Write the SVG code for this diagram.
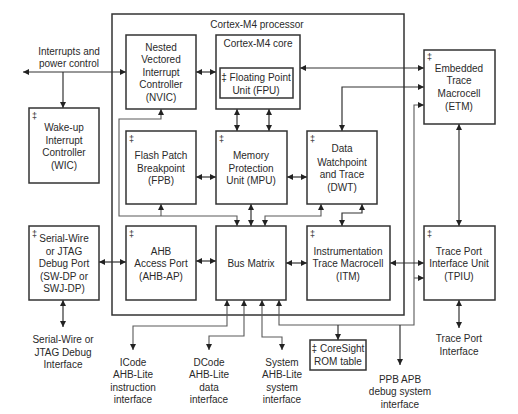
<svg xmlns="http://www.w3.org/2000/svg" width="518" height="414" viewBox="0 0 518 414">
<defs>
<marker id="ah" viewBox="0 0 6 6" refX="6" refY="3" markerWidth="6" markerHeight="6" markerUnits="userSpaceOnUse" orient="auto-start-reverse">
<path d="M0,0 L6,3 L0,6 z" fill="#222"/>
</marker>
<style>
.box{fill:#fff;stroke:#333;stroke-width:1.5}
.frame{fill:none;stroke:#333;stroke-width:1.5}
.c{fill:none;stroke:#333;stroke-width:1.2}
.g{fill:none;stroke:#5a5a5a;stroke-width:1.1}
.b{marker-start:url(#ah);marker-end:url(#ah)}
.e{marker-end:url(#ah)}
text{font-family:"Liberation Sans",Arial,sans-serif;font-size:10px;fill:#2a2a2a;text-anchor:middle}
.dg{font-size:9px;text-anchor:start}
</style>
</defs>
<rect width="518" height="414" fill="#fff"/>

<g id="processor">
<rect class="frame" x="112" y="14" width="292" height="301"/>
<text x="257" y="28">Cortex-M4 processor</text>
</g>

<g id="connectors">
<path class="c b" d="M23,72 H126"/>
<path class="c e" d="M63,72 V108"/>
<path class="c b" d="M196,72 H216"/>
<path class="c b" d="M300,68 H424"/>
<path class="c b" d="M342,131 V87 H424"/>
<path class="g b" d="M279,300 V325 H414 V105 H424"/>
<path class="g e" d="M414,278 H424"/>
<path class="c e" d="M338,325 V340"/>
<path class="c e" d="M400,325 V365"/>
<path class="c b" d="M237,109 V131"/>
<path class="c b" d="M269,109 V131"/>
<path class="c b" d="M196,177 H216"/>
<path class="c b" d="M287,177 H307"/>
<path class="g b" d="M161,109 V119 H119 V216 H237 V226"/>
<path class="g e" d="M161,216 V204"/>
<path class="c b" d="M251,204 V226"/>
<path class="g b" d="M321,204 V216 H265 V226"/>
<path class="c b" d="M362,204 V213 H342 V226"/>
<path class="c b" d="M99,262 H126"/>
<path class="c b" d="M196,261 H216"/>
<path class="c b" d="M286,263 H307"/>
<path class="c b" d="M390,263 H424"/>
<path class="c b" d="M459,124 V226"/>
<path class="c b" d="M459,300 V328"/>
<path class="c b" d="M63,300 V327"/>
<path class="g b" d="M227,300 V326 H133 V350"/>
<path class="g b" d="M244,300 V336 H209 V350"/>
<path class="g b" d="M262,300 V337 H282 V350"/>
</g>

<g id="nvic">
<rect class="box" x="126" y="35" width="70" height="74"/>
<text x="161" y="51">Nested</text>
<text x="161" y="63">Vectored</text>
<text x="161" y="76">Interrupt</text>
<text x="161" y="88">Controller</text>
<text x="161" y="101">(NVIC)</text>
</g>

<g id="core">
<rect class="box" x="216" y="35" width="84" height="74"/>
<text x="258" y="47">Cortex-M4 core</text>
</g>

<g id="fpu">
<rect class="box" x="220" y="68" width="73" height="30"/>
<text x="256" y="81">‡ Floating Point</text>
<text x="256" y="94">Unit (FPU)</text>
</g>

<g id="etm">
<rect class="box" x="424" y="50" width="71" height="74"/>
<text class="dg" x="427" y="60">‡</text>
<text x="459" y="72">Embedded</text>
<text x="459" y="84">Trace</text>
<text x="459" y="97">Macrocell</text>
<text x="459" y="110">(ETM)</text>
</g>

<g id="wic">
<rect class="box" x="29" y="108" width="70" height="75"/>
<text class="dg" x="32" y="119">‡</text>
<text x="64" y="131">Wake-up</text>
<text x="64" y="144">Interrupt</text>
<text x="64" y="156">Controller</text>
<text x="64" y="169">(WIC)</text>
</g>

<g id="fpb">
<rect class="box" x="126" y="131" width="70" height="73"/>
<text class="dg" x="129" y="142">‡</text>
<text x="161" y="159">Flash Patch</text>
<text x="161" y="172">Breakpoint</text>
<text x="161" y="184">(FPB)</text>
</g>

<g id="mpu">
<rect class="box" x="216" y="131" width="71" height="73"/>
<text class="dg" x="219" y="142">‡</text>
<text x="251" y="159">Memory</text>
<text x="251" y="172">Protection</text>
<text x="251" y="184">Unit (MPU)</text>
</g>

<g id="dwt">
<rect class="box" x="307" y="131" width="70" height="73"/>
<text class="dg" x="310" y="142">‡</text>
<text x="342" y="152">Data</text>
<text x="342" y="166">Watchpoint</text>
<text x="342" y="178">and Trace</text>
<text x="342" y="191">(DWT)</text>
</g>

<g id="swdp">
<rect class="box" x="29" y="226" width="70" height="74"/>
<text class="dg" x="32" y="237">‡</text>
<text x="64" y="242">Serial-Wire</text>
<text x="64" y="255">or JTAG</text>
<text x="64" y="267">Debug Port</text>
<text x="64" y="280">(SW-DP or</text>
<text x="64" y="292">SWJ-DP)</text>
</g>

<g id="ahbap">
<rect class="box" x="126" y="226" width="70" height="74"/>
<text class="dg" x="129" y="237">‡</text>
<text x="161" y="255">AHB</text>
<text x="161" y="267">Access Port</text>
<text x="161" y="280">(AHB-AP)</text>
</g>

<g id="busmatrix">
<rect class="box" x="216" y="226" width="70" height="74"/>
<text x="251" y="267">Bus Matrix</text>
</g>

<g id="itm">
<rect class="box" x="307" y="226" width="83" height="74"/>
<text class="dg" x="310" y="237">‡</text>
<text x="348" y="255">Instrumentation</text>
<text x="348" y="267">Trace Macrocell</text>
<text x="348" y="280">(ITM)</text>
</g>

<g id="tpiu">
<rect class="box" x="424" y="226" width="71" height="74"/>
<text class="dg" x="427" y="237">‡</text>
<text x="459" y="255">Trace Port</text>
<text x="459" y="267">Interface Unit</text>
<text x="459" y="280">(TPIU)</text>
</g>

<g id="romtable">
<rect class="box" x="310" y="340" width="56" height="30"/>
<text x="338" y="352">‡ CoreSight</text>
<text x="338" y="365">ROM table</text>
</g>

<g id="labels">
<text x="69" y="55">Interrupts and</text>
<text x="69" y="67">power control</text>
<text x="63" y="343">Serial-Wire or</text>
<text x="63" y="356">JTAG Debug</text>
<text x="63" y="368">Interface</text>
<text x="133" y="366">ICode</text>
<text x="133" y="378">AHB-Lite</text>
<text x="133" y="391">instruction</text>
<text x="133" y="403">interface</text>
<text x="209" y="366">DCode</text>
<text x="209" y="378">AHB-Lite</text>
<text x="209" y="391">data</text>
<text x="209" y="403">interface</text>
<text x="282" y="366">System</text>
<text x="282" y="378">AHB-Lite</text>
<text x="282" y="391">system</text>
<text x="282" y="403">interface</text>
<text x="400" y="383">PPB APB</text>
<text x="400" y="395">debug system</text>
<text x="400" y="408">interface</text>
<text x="459" y="342">Trace Port</text>
<text x="459" y="355">Interface</text>
</g>
</svg>
